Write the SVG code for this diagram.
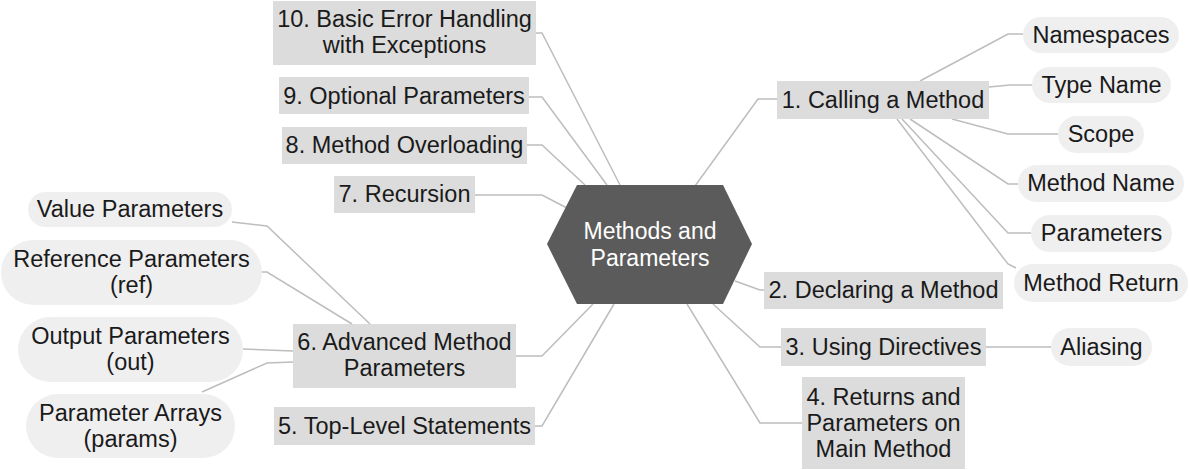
<svg xmlns="http://www.w3.org/2000/svg" width="1189" height="470" viewBox="0 0 1189 470">
<style>
text{font-family:"Liberation Sans",Arial,sans-serif;font-size:23.5px;fill:#1a1a1a;text-anchor:middle}
.box{fill:#dcdcdc}
.pill{fill:#efeff0}
.c{fill:none;stroke:#bdbdbd;stroke-width:1.5}
.hex{fill:#5b5b5b}
.ct{fill:#ffffff;font-size:23px}
</style>
<rect width="1189" height="470" fill="#ffffff"/>
<g id="connectors">
<polyline class="c" points="695,186 758,99 777,99"/>
<polyline class="c" points="735,281 760,290 764,290"/>
<polyline class="c" points="713,304 760,347 781,347"/>
<polyline class="c" points="687,304 760,423 802,423"/>
<polyline class="c" points="920,81 1008,34 1023,34"/>
<polyline class="c" points="989,87 1010,85 1032,85"/>
<polyline class="c" points="952,119 1008,134 1058,134"/>
<polyline class="c" points="910,119 1008,184 1018,184"/>
<polyline class="c" points="902,119 1008,233 1031,233"/>
<polyline class="c" points="897,119 1008,264 1016,268"/>
<polyline class="c" points="986,347 1051,347"/>
<polyline class="c" points="536,33 542,33 620,185"/>
<polyline class="c" points="529,97 542,97 607,185"/>
<polyline class="c" points="527,145 542,145 585,185"/>
<polyline class="c" points="475,195 542,195 567,208"/>
<polyline class="c" points="516,356 542,356 593,304"/>
<polyline class="c" points="535,426 542,426 614,304"/>
<polyline class="c" points="232,222 267,226 370,324"/>
<polyline class="c" points="261,272 267,272 352,324"/>
<polyline class="c" points="243,349 293,351"/>
<polyline class="c" points="202,392 267,363 293,362"/>
</g>
<g id="center">
<polygon class="hex" points="577,185 723,185 752,244 723,304 577,304 547,244"/>
<text class="ct" x="650" y="239">Methods and</text>
<text class="ct" x="650" y="266">Parameters</text>
</g>
<g id="n1"><rect class="box" x="777" y="81" width="212" height="38"/><text x="883" y="108">1. Calling a Method</text></g>
<g id="n2"><rect class="box" x="764" y="272" width="239" height="37"/><text x="883.5" y="298">2. Declaring a Method</text></g>
<g id="n3"><rect class="box" x="781" y="328" width="205" height="38"/><text x="883.5" y="355">3. Using Directives</text></g>
<g id="n4"><rect class="box" x="802" y="377" width="163" height="92"/><text x="883.5" y="405">4. Returns and</text><text x="883.5" y="431">Parameters on</text><text x="883.5" y="457">Main Method</text></g>
<g id="n5"><rect class="box" x="274" y="407" width="261" height="38"/><text x="404.5" y="434">5. Top-Level Statements</text></g>
<g id="n6"><rect class="box" x="293" y="324" width="223" height="64"/><text x="404.5" y="350">6. Advanced Method</text><text x="404.5" y="376">Parameters</text></g>
<g id="n7"><rect class="box" x="334" y="176" width="141" height="37"/><text x="404.5" y="202">7. Recursion</text></g>
<g id="n8"><rect class="box" x="282" y="127" width="245" height="37"/><text x="404.5" y="153">8. Method Overloading</text></g>
<g id="n9"><rect class="box" x="279" y="77" width="250" height="37"/><text x="404" y="104">9. Optional Parameters</text></g>
<g id="n10"><rect class="box" x="273" y="1" width="263" height="64"/><text x="404.5" y="27">10. Basic Error Handling</text><text x="404.5" y="53">with Exceptions</text></g>
<g id="namespaces"><rect class="pill" x="1023" y="17" width="156" height="36" rx="18"/><text x="1101" y="43">Namespaces</text></g>
<g id="typename"><rect class="pill" x="1032" y="67" width="139" height="36" rx="18"/><text x="1101.5" y="93">Type Name</text></g>
<g id="scope"><rect class="pill" x="1058" y="116" width="86" height="37" rx="18.5"/><text x="1101" y="142">Scope</text></g>
<g id="methodname"><rect class="pill" x="1018" y="165" width="166" height="37" rx="18.5"/><text x="1101" y="191">Method Name</text></g>
<g id="parameters"><rect class="pill" x="1031" y="215" width="141" height="37" rx="18.5"/><text x="1101.5" y="241">Parameters</text></g>
<g id="methodreturn"><rect class="pill" x="1014" y="264" width="174" height="38" rx="19"/><text x="1101" y="291">Method Return</text></g>
<g id="aliasing"><rect class="pill" x="1051" y="328" width="101" height="38" rx="19"/><text x="1101.5" y="355">Aliasing</text></g>
<g id="valueparams"><rect class="pill" x="28" y="192" width="204" height="35" rx="17.5"/><text x="130" y="217">Value Parameters</text></g>
<g id="refparams"><rect class="pill" x="1" y="240" width="261" height="65" rx="32.5"/><text x="131.5" y="267">Reference Parameters</text><text x="131.5" y="293">(ref)</text></g>
<g id="outparams"><rect class="pill" x="18" y="317" width="225" height="65" rx="32.5"/><text x="130.5" y="344">Output Parameters</text><text x="130.5" y="370">(out)</text></g>
<g id="paramarrays"><rect class="pill" x="26" y="394" width="209" height="64" rx="32"/><text x="130.5" y="421">Parameter Arrays</text><text x="130.5" y="447">(params)</text></g>
</svg>
